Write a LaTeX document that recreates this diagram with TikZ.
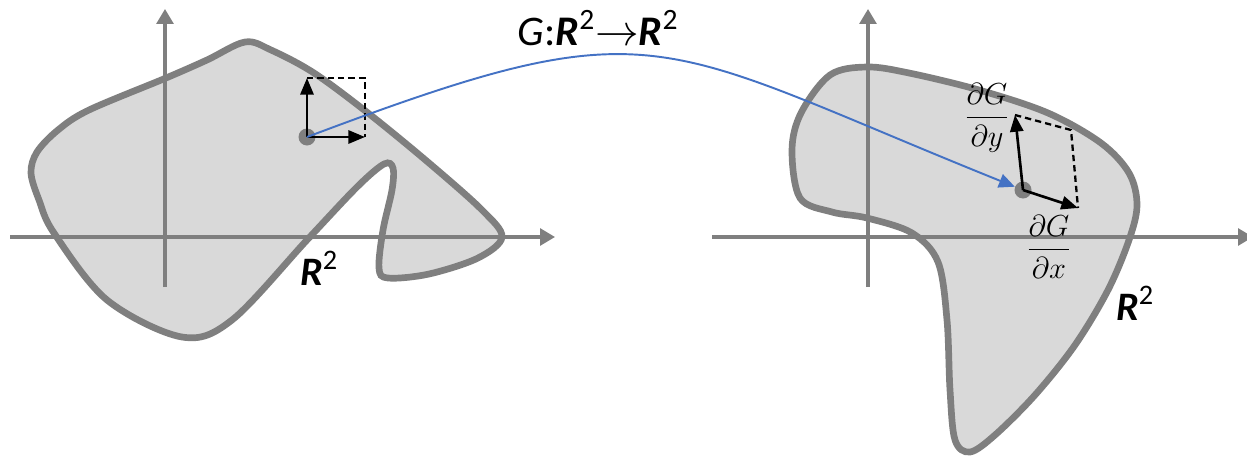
\documentclass[tikz,border=0pt]{standalone}
\usepackage{fontspec}
\setmainfont{Carlito}
\usepackage{amsmath}
\usetikzlibrary{arrows.meta}
\definecolor{shapegray}{RGB}{127,127,127}
\definecolor{shapefill}{RGB}{217,217,217}
\definecolor{mapblue}{RGB}{68,114,196}

\begin{document}
\begin{tikzpicture}[x=0.02cm, y=-0.02cm,
    axis/.style={shapegray, line width=1.8pt, -{Triangle[length=8.5pt,width=9.6pt]}},
    region/.style={draw=shapegray, fill=shapefill, line width=3.8pt},
    basis/.style={black, line width=1.5pt, -{Triangle[length=9.5pt,width=7.5pt]}},
    spanbox/.style={black, line width=1.3pt, dash pattern=on 3.6pt off 2.3pt},
    dotmark/.style={circle, fill=shapegray, inner sep=0pt, minimum size=0.34cm},
    setname/.style={font=\fontsize{23}{25}\selectfont\bfseries\itshape}]
    \useasboundingbox (0,0) rectangle (1247,457);

    % Left region
    \draw[region] plot[smooth cycle, tension=0.55] coordinates {
        (245,42) (271,50) (314,73) (368,113) (429,163) (482,210) (502,237)
        (478,258) (429,274) (388,278) (379,268) (383,230) (392,190) (393,168)
        (384,164) (357,187) (307,240) (232,320) (182,337) (107,300) (54,233)
        (39,200) (31,173) (37,152) (58,130) (89,110) (166,78) (207,60)
    };
    \draw[axis] (10,237) -- (555,237);
    \draw[axis] (165,287) -- (165,9);

    % Right region
    \draw[region] plot[smooth cycle, tension=0.55] coordinates {
        (867,67) (909,73) (979,90) (1048,113) (1101,143) (1129,173) (1137,205)
        (1129,240) (1108,290) (1075,345) (1035,395) (995,435) (970,452)
        (955,440) (950,390) (947,320) (938,262) (912,233) (867,218) (832,212)
        (800,198) (792,150) (801,113) (830,75)
    };
    \draw[axis] (712,237) -- (1253,237);
    \draw[axis] (868,287) -- (868,9);

    % Points and basis vectors
    \node[dotmark] (ldot) at (307,137) {};
    \node[dotmark] (rdot) at (1023,190) {};
    \coordinate (lx) at (365,137);
    \coordinate (ly) at (307,78);
    \coordinate (rx) at (1078,208);
    \coordinate (ry) at (1015,115);
    \coordinate (rc) at (1071,130);

    \draw[spanbox] (ly) -| (lx);
    \draw[spanbox] (ry) -- (rc) -- (rx);
    \draw[basis] (ldot.center) -- (lx);
    \draw[basis] (ldot.center) -- (ly);
    \draw[basis] (rdot.center) -- (rx);
    \draw[basis] (rdot.center) -- (ry);

    % Mapping
    \draw[mapblue, line width=1.1pt, -{Triangle[length=9pt,width=8pt]}]
        (ldot.center) .. controls (660,4) and (650,40) .. (rdot);
    \node[font=\fontsize{24}{26}\selectfont] (mapname) at (598,28)
        {\textit{G}:\textbf{\textit{R}}\textsuperscript{2}$\rightarrow$\textbf{\textit{R}}\textsuperscript{2}};

    % Labels
    \node[setname] (lset) at (319,268) {R\textsuperscript{\normalfont 2}};
    \node[setname] (rset) at (1135,303) {R\textsuperscript{\normalfont 2}};
    \node[font=\fontsize{17}{19}\selectfont] (dgdy) at (987,118) {$\dfrac{\partial G}{\partial y}$};
    \node[font=\fontsize{17}{19}\selectfont] (dgdx) at (1049,247) {$\dfrac{\partial G}{\partial x}$};
\end{tikzpicture}
\end{document}
